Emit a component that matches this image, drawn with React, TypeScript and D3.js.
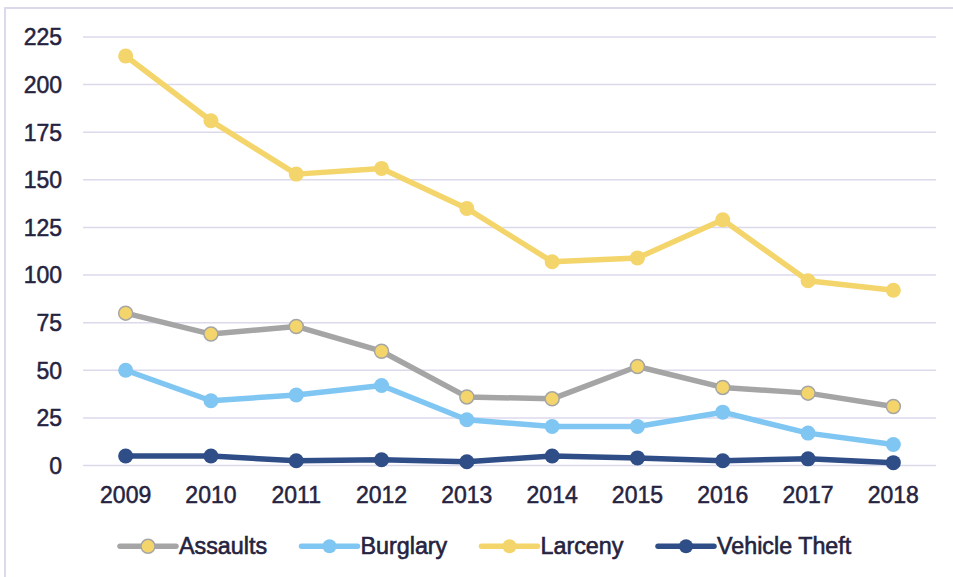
import React, { useEffect, useRef } from 'react'
import * as d3 from 'd3'

const years = ['2009', '2010', '2011', '2012', '2013', '2014', '2015', '2016', '2017', '2018']
const assaults = [80, 69, 73, 60, 36, 35, 52, 41, 38, 31]
const burglary = [50, 34, 37, 42, 24, 20.5, 20.5, 28, 17, 11]
const larceny = [215, 181, 153, 156, 135, 107, 109, 129, 97, 92]
const vehicleTheft = [5, 5, 2.5, 3, 2, 5, 4, 2.5, 3.5, 1.5]
const yTicks = [0, 25, 50, 75, 100, 125, 150, 175, 200, 225]

const series = [
  { name: 'Assaults', values: assaults, color: '#a5a5a5', fill: '#f3d56b', outline: '#a5a5a5' },
  { name: 'Burglary', values: burglary, color: '#80c6f2', fill: '#80c6f2', outline: 'none' },
  { name: 'Larceny', values: larceny, color: '#f3d56b', fill: '#f3d56b', outline: 'none' },
  { name: 'Vehicle Theft', values: vehicleTheft, color: '#2f4d86', fill: '#2f4d86', outline: 'none' },
]

const W = 953
const H = 577

export default function App() {
  const ref = useRef<SVGSVGElement>(null)

  useEffect(() => {
    const svg = d3.select(ref.current)
    svg.selectAll('*').remove()

    const left = 83
    const right = 936
    const top = 37
    const bottom = 465.5
    const textColor = '#252340'
    const font = '"Liberation Sans", Arial, Helvetica, sans-serif'

    // frame
    svg
      .append('rect')
      .attr('x', 5)
      .attr('y', 8)
      .attr('width', W + 20)
      .attr('height', H + 20)
      .attr('fill', 'white')
      .attr('stroke', '#dcd9ec')
      .attr('stroke-width', 2)

    const x = d3.scaleBand().domain(years).range([left, right])
    const y = d3.scaleLinear().domain([0, 225]).range([bottom, top])
    const cx = (d: string) => (x(d) as number) + x.bandwidth() / 2

    /* grid + y labels */
    const grid = svg.append('g')
    grid
      .selectAll('line')
      .data(yTicks)
      .enter()
      .append('line')
      .attr('x1', left)
      .attr('x2', right)
      .attr('y1', (d) => y(d))
      .attr('y2', (d) => y(d))
      .attr('stroke', '#dcd9ec')
      .attr('stroke-width', 1.5)

    grid
      .selectAll('text')
      .data(yTicks)
      .enter()
      .append('text')
      .attr('x', 62)
      .attr('y', (d) => y(d))
      .attr('dy', '0.36em')
      .attr('text-anchor', 'end')
      .attr('fill', textColor)
      .attr('stroke', textColor)
      .attr('stroke-width', 0.5)
      .style('font-family', font)
      .style('font-size', '23px')
      .text((d) => d)

    /* x labels */
    svg
      .append('g')
      .selectAll('text')
      .data(years)
      .enter()
      .append('text')
      .attr('x', (d) => cx(d))
      .attr('y', 503)
      .attr('text-anchor', 'middle')
      .attr('fill', textColor)
      .attr('stroke', textColor)
      .attr('stroke-width', 0.5)
      .style('font-family', font)
      .style('font-size', '23px')
      .text((d) => d)

    /* lines */
    const line = d3
      .line<number>()
      .x((d, i) => cx(years[i]))
      .y((d) => y(d))

    series.forEach((s) => {
      const g = svg.append('g')
      g.append('path')
        .attr('d', line(s.values))
        .attr('fill', 'none')
        .attr('stroke', s.color)
        .attr('stroke-width', 5.5)
        .attr('stroke-linejoin', 'round')
      g.selectAll('circle')
        .data(s.values)
        .enter()
        .append('circle')
        .attr('cx', (d, i) => cx(years[i]))
        .attr('cy', (d) => y(d))
        .attr('r', s.outline === 'none' ? 7.5 : 7)
        .attr('fill', s.fill)
        .attr('stroke', s.outline)
        .attr('stroke-width', 1.5)
    })

    /* legend */
    const legendX = [120, 301.5, 481.5, 658]
    const legendY = 546.3
    series.forEach((s, i) => {
      const g = svg.append('g').attr('transform', `translate(${legendX[i]}, ${legendY})`)
      g.append('line')
        .attr('x1', 0)
        .attr('x2', 56)
        .attr('stroke', s.color)
        .attr('stroke-width', 5.5)
        .attr('stroke-linecap', 'round')
      g.append('circle')
        .attr('cx', 28)
        .attr('r', 7)
        .attr('fill', s.fill)
        .attr('stroke', s.outline)
        .attr('stroke-width', 1.5)
      g.append('text')
        .attr('x', 59)
        .attr('y', 7.5)
        .attr('fill', textColor)
        .attr('stroke', textColor)
        .attr('stroke-width', 0.6)
        .style('font-family', font)
        .style('font-size', '23.3px')
        .text(s.name)
    })
  }, [])

  return (
    <svg
      ref={ref}
      width={W}
      height={H}
      style={{ position: 'absolute', left: 0, top: 0, background: 'white' }}
    />
  )
}
